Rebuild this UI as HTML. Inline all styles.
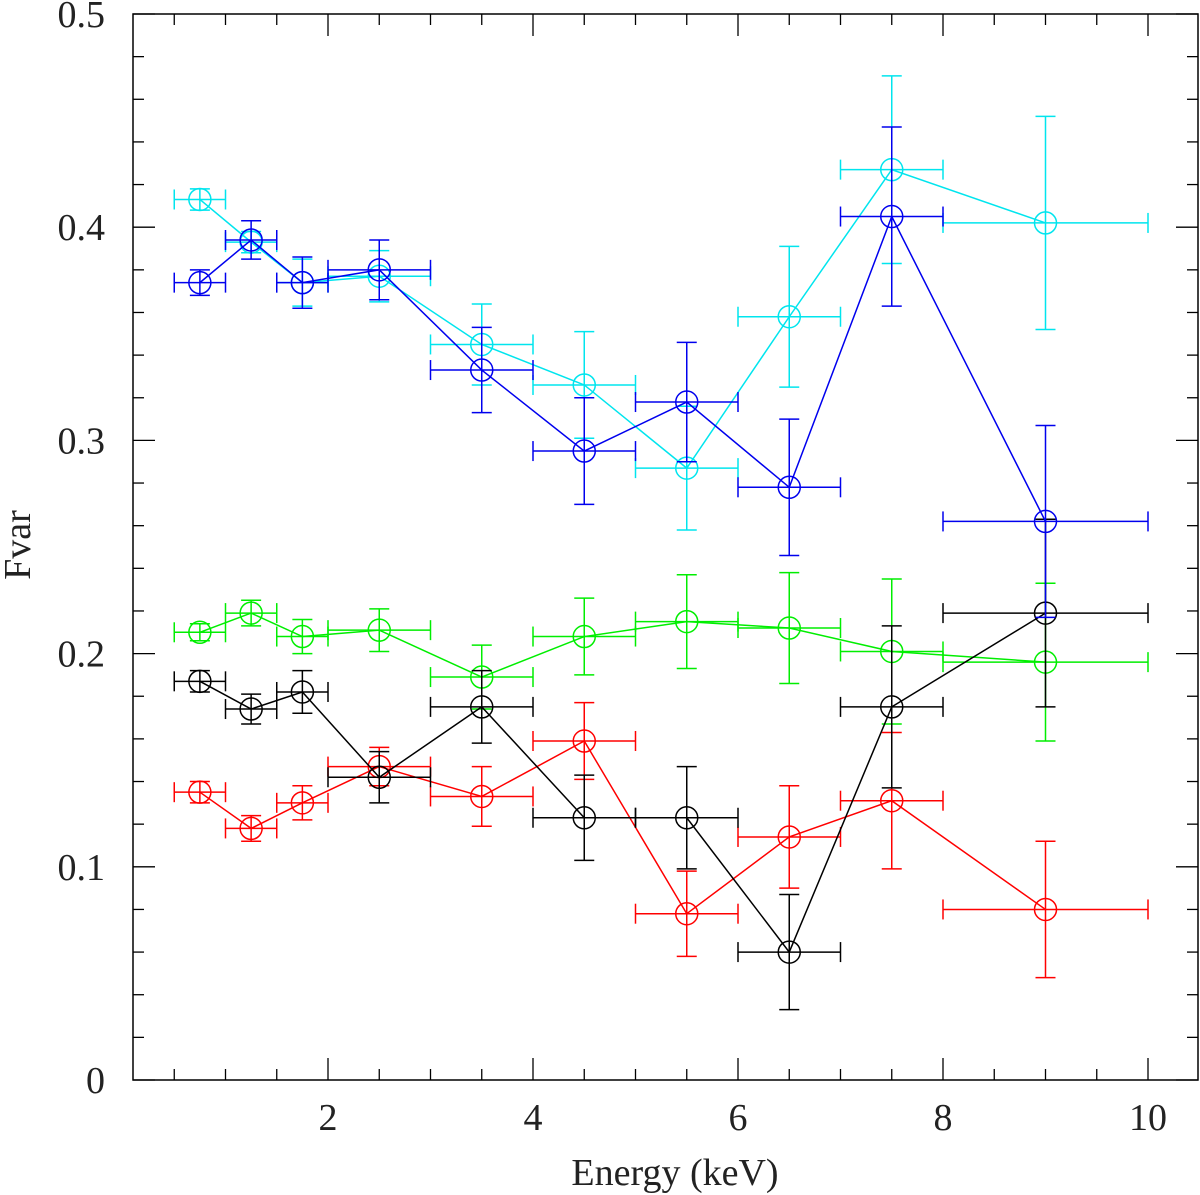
<!DOCTYPE html>
<html><head><meta charset="utf-8"><style>
body{margin:0;background:#fff}
svg{display:block}
text{font-family:"Liberation Serif",serif;font-size:38px;fill:#222}
</style></head><body>
<svg id="c" width="1200" height="1195"></svg>
<script>
const energies=[0.75,1.25,1.75,2.5,3.5,4.5,5.5,6.5,7.5,9];
const eLo=[0.5,1,1.5,2,3,4,5,6,7,8];
const eHi=[1,1.5,2,3,4,5,6,7,8,10];
const cyanV=[0.413,0.393,0.374,0.377,0.345,0.326,0.287,0.358,0.427,0.402];
const cyanE=[0.005,0.005,0.011,0.012,0.019,0.025,0.029,0.033,0.044,0.05];
const blueV=[0.374,0.394,0.374,0.380,0.333,0.295,0.318,0.278,0.405,0.262];
const blueE=[0.006,0.009,0.012,0.014,0.02,0.025,0.028,0.032,0.042,0.045];
const greenV=[0.210,0.219,0.208,0.211,0.189,0.208,0.215,0.212,0.201,0.196];
const greenE=[0.004,0.006,0.008,0.010,0.015,0.018,0.022,0.026,0.034,0.037];
const blackV=[0.187,0.174,0.182,0.142,0.175,0.123,0.123,0.060,0.175,0.219];
const blackE=[0.005,0.007,0.010,0.012,0.017,0.020,0.024,0.027,0.038,0.044];
const redV=[0.135,0.118,0.130,0.147,0.133,0.159,0.078,0.114,0.131,0.080];
const redE=[0.005,0.006,0.008,0.009,0.014,0.018,0.020,0.024,0.032,0.032];
const xTicks=[2,4,6,8,10];
const yTicks=[0,0.1,0.2,0.3,0.4,0.5];
const yLabels=["0","0.1","0.2","0.3","0.4","0.5"];

const L=133,R=1198,T=14,B=1080;
const X=v=>123+v*102.5;
const Y=v=>B-v/0.5*(B-T);
const svg=document.getElementById('c');
const NS='http://www.w3.org/2000/svg';
function mk(t,a,p){const e=document.createElementNS(NS,t);for(const k in a)e.setAttribute(k,a[k]);(p||svg).appendChild(e);return e;}

const frame=mk('rect',{x:L,y:T,width:R-L,height:B-T,fill:'none',stroke:'#000','stroke-width':1.5});



const axes=mk('g',{stroke:'#000','stroke-width':1.3});


for(let v=0.5;v<=10.01;v+=0.5){
  const maj=Math.abs(v/2-Math.round(v/2))<1e-6;const len=maj?22:11;const x=X(v);
  mk('line',{x1:x,x2:x,y1:B,y2:B-len},axes);mk('line',{x1:x,x2:x,y1:T,y2:T+len},axes);
}
for(let i=0;i<=25;i++){
  const v=i*0.02;const maj=i%5===0;const len=maj?22:11;const y=Y(v);
  mk('line',{x1:L,x2:L+len,y1:y,y2:y},axes);mk('line',{x1:R,x2:R-len,y1:y,y2:y},axes);
}
xTicks.forEach(v=>{const t=mk('text',{x:X(v),y:1130,'text-anchor':'middle'});t.textContent=v;

});
yTicks.forEach((v,i)=>{const t=mk('text',{x:105,y:Y(v)+13,'text-anchor':'end'});t.textContent=yLabels[i];

});
const xt=mk('text',{x:675,y:1185,'text-anchor':'middle'});xt.textContent='Energy (keV)';


const yt=mk('text',{x:30,y:545,'text-anchor':'middle',transform:'rotate(-90 30 545)'});yt.textContent='Fvar';



function series(name,color,vals,errs){
  const g=mk('g',{stroke:color,fill:'none','stroke-width':1.5});
  
  
  mk('polyline',{points:energies.map((e,i)=>X(e)+','+Y(vals[i])).join(' ')},g);
  energies.forEach((e,i)=>{
    const x=X(e),y=Y(vals[i]),y1=Y(vals[i]+errs[i]),y2=Y(vals[i]-errs[i]);
    const x1=X(eLo[i]),x2=X(eHi[i]);
    mk('line',{x1:x,x2:x,y1:y1,y2:y2},g);
    mk('line',{x1:x1,x2:x2,y1:y,y2:y},g);
    mk('line',{x1:x-10,x2:x+10,y1:y1,y2:y1},g);
    mk('line',{x1:x-10,x2:x+10,y1:y2,y2:y2},g);
    mk('line',{x1:x1,x2:x1,y1:y-10,y2:y+10},g);
    mk('line',{x1:x2,x2:x2,y1:y-10,y2:y+10},g);
    const c=mk('circle',{cx:x,cy:y,r:11,fill:'none'},g);
    
    
  });
}
series('cyan','#00e5ee',cyanV,cyanE);
series('green','#00ee00',greenV,greenE);
series('red','#ff0000',redV,redE);
series('black','#000000',blackV,blackE);
series('blue','#0000ee',blueV,blueE);
</script>
</body></html>
